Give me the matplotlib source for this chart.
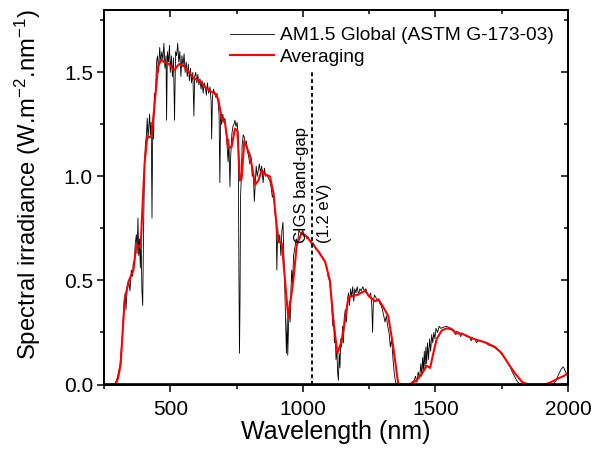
import matplotlib
matplotlib.use("Agg")
import matplotlib.pyplot as plt
from matplotlib.ticker import MultipleLocator, FormatStrFormatter

plt.rcParams['font.family'] = ['Liberation Sans', 'DejaVu Sans']
plt.rcParams['mathtext.fontset'] = 'custom'
plt.rcParams['mathtext.rm'] = 'Liberation Sans'
plt.rcParams['mathtext.it'] = 'Liberation Sans'
plt.rcParams['mathtext.bf'] = 'Liberation Sans'

# AM1.5 Global spectrum
am_nm = [280, 290, 300, 310, 320, 325, 330, 333, 338, 343, 348, 353, 358, 360, 365, 368, 372, 375, 378, 381,
         384, 387, 390, 393, 396, 399, 403, 406, 410, 413, 416, 419, 422, 425, 428, 431, 434, 437, 440, 444,
         448, 452, 456, 460, 464, 468, 472, 476, 480, 484, 486, 489, 493, 497, 500, 504, 508, 512, 516, 520,
         524, 528, 532, 536, 540, 544, 548, 552, 556, 560, 564, 568, 572, 576, 580, 585, 589, 592, 596, 600,
         604, 608, 612, 616, 620, 624, 628, 632, 636, 640, 645, 650, 654, 656, 659, 663, 667, 672, 676, 680,
         684, 687, 690, 694, 698, 702, 706, 710, 714, 718, 721, 725, 728, 732, 736, 740, 744, 748, 752, 756,
         759, 761, 763, 765, 768, 771, 775, 779, 783, 787, 791, 795, 800, 805, 809, 813, 817, 820, 824, 828,
         832, 836, 840, 845, 850, 855, 860, 865, 870, 875, 880, 885, 890, 895, 899, 902, 905, 909, 913, 917,
         921, 925, 929, 932, 935, 938, 941, 943, 946, 949, 952, 955, 958, 961, 965, 970, 975, 980, 985, 990,
         995, 1000, 1005, 1010, 1015, 1020, 1030, 1040, 1050, 1060, 1070, 1080, 1090, 1095, 1100, 1105, 1110, 1113, 1116, 1119,
         1122, 1125, 1128, 1131, 1134, 1137, 1140, 1143, 1146, 1150, 1153, 1156, 1160, 1164, 1168, 1172, 1176, 1180, 1184, 1188,
         1192, 1196, 1200, 1205, 1210, 1215, 1220, 1226, 1232, 1238, 1244, 1250, 1256, 1260, 1263, 1266, 1270, 1275, 1280, 1285,
         1290, 1295, 1300, 1305, 1310, 1315, 1320, 1325, 1330, 1335, 1340, 1345, 1350, 1355, 1400, 1410, 1420, 1425, 1430, 1435,
         1440, 1445, 1448, 1452, 1455, 1458, 1461, 1464, 1467, 1470, 1474, 1478, 1482, 1486, 1490, 1494, 1498, 1502, 1508, 1514,
         1520, 1530, 1540, 1550, 1560, 1570, 1575, 1580, 1590, 1595, 1600, 1610, 1620, 1630, 1635, 1640, 1650, 1655, 1660, 1670,
         1680, 1690, 1700, 1710, 1720, 1730, 1740, 1750, 1760, 1770, 1780, 1790, 1800, 1810, 1820, 1830, 1900, 1910, 1920, 1935,
         1945, 1955, 1965, 1975, 1982, 1988, 1994, 2000]
am_val = [0.0, 0.0, 0.03, 0.09, 0.25, 0.38, 0.44, 0.36, 0.48, 0.50, 0.45, 0.55, 0.52, 0.58, 0.60, 0.68, 0.72, 0.63, 0.80, 0.62,
          0.70, 0.56, 0.70, 0.45, 0.38, 0.72, 1.06, 1.15, 1.20, 1.28, 1.18, 1.24, 1.30, 1.20, 1.26, 0.80, 1.25, 1.18, 1.40, 1.38,
          1.55, 1.58, 1.50, 1.62, 1.55, 1.60, 1.56, 1.64, 1.52, 1.58, 1.27, 1.60, 1.55, 1.63, 1.50, 1.58, 1.48, 1.57, 1.27, 1.60,
          1.58, 1.64, 1.55, 1.60, 1.48, 1.58, 1.53, 1.59, 1.50, 1.55, 1.48, 1.54, 1.46, 1.52, 1.45, 1.50, 1.29, 1.48, 1.50, 1.45,
          1.49, 1.44, 1.47, 1.42, 1.46, 1.40, 1.45, 1.43, 1.39, 1.45, 1.40, 1.43, 1.36, 1.18, 1.38, 1.42, 1.40, 1.38, 1.40, 1.36,
          1.30, 0.97, 1.30, 1.25, 1.30, 1.26, 1.28, 1.22, 1.15, 1.07, 1.18, 0.95, 1.10, 1.20, 1.24, 1.25, 1.27, 1.24, 1.26, 1.20,
          0.50, 0.15, 0.40, 0.90, 1.00, 1.15, 1.20, 1.19, 1.15, 1.17, 1.12, 1.10, 1.06, 1.09, 1.00, 1.02, 0.88, 0.95, 1.05, 1.00,
          1.03, 1.06, 1.02, 1.05, 0.97, 1.04, 1.00, 1.01, 0.99, 0.98, 0.95, 0.90, 0.92, 0.82, 0.78, 0.55, 0.75, 0.68, 0.72, 0.62,
          0.74, 0.78, 0.60, 0.45, 0.30, 0.15, 0.32, 0.14, 0.28, 0.40, 0.30, 0.45, 0.55, 0.48, 0.62, 0.66, 0.70, 0.68, 0.74, 0.73,
          0.72, 0.74, 0.71, 0.72, 0.70, 0.71, 0.68, 0.68, 0.65, 0.64, 0.62, 0.60, 0.57, 0.52, 0.50, 0.45, 0.35, 0.28, 0.32, 0.20,
          0.25, 0.12, 0.18, 0.06, 0.02, 0.15, 0.08, 0.22, 0.18, 0.28, 0.20, 0.32, 0.36, 0.30, 0.40, 0.44, 0.38, 0.46, 0.42, 0.47,
          0.40, 0.46, 0.44, 0.47, 0.43, 0.46, 0.45, 0.47, 0.45, 0.46, 0.43, 0.42, 0.44, 0.38, 0.25, 0.40, 0.43, 0.42, 0.40, 0.41,
          0.39, 0.38, 0.36, 0.33, 0.30, 0.33, 0.28, 0.25, 0.18, 0.22, 0.12, 0.05, 0.01, 0.0, 0.0, 0.01, 0.02, 0.04, 0.01, 0.06,
          0.03, 0.10, 0.04, 0.13, 0.06, 0.16, 0.08, 0.18, 0.10, 0.20, 0.12, 0.22, 0.16, 0.24, 0.20, 0.25, 0.22, 0.27, 0.25, 0.28,
          0.27, 0.275, 0.28, 0.275, 0.27, 0.26, 0.24, 0.255, 0.25, 0.23, 0.245, 0.24, 0.235, 0.225, 0.21, 0.225, 0.215, 0.20, 0.21, 0.21,
          0.205, 0.20, 0.19, 0.185, 0.18, 0.17, 0.165, 0.145, 0.13, 0.11, 0.09, 0.06, 0.035, 0.012, 0.004, 0.0, 0.0, 0.003, 0.0, 0.004,
          0.0, 0.02, 0.05, 0.075, 0.085, 0.07, 0.05, 0.04]

# Averaged spectrum
avg_nm = [280, 294, 303, 313, 328, 344, 361, 372, 388, 403, 413, 428, 439, 454, 466, 476, 495, 514, 533, 552,
          571, 590, 612, 631, 650, 669, 681, 694, 706, 719, 731, 744, 753, 763, 769, 779, 801, 820, 832, 845,
          857, 876, 889, 907, 920, 926, 945, 964, 977, 996, 1015, 1040, 1058, 1084, 1102, 1115, 1130, 1147, 1159, 1172,
          1203, 1235, 1253, 1272, 1285, 1304, 1322, 1341, 1360, 1404, 1429, 1448, 1467, 1480, 1492, 1505, 1524, 1543, 1561, 1580,
          1599, 1618, 1643, 1668, 1693, 1725, 1750, 1775, 1800, 1826, 1850, 1914, 1939, 1964, 1983, 2000]
avg_val = [0.0, 0.0, 0.03, 0.10, 0.41, 0.50, 0.55, 0.67, 0.66, 1.06, 1.19, 1.19, 1.32, 1.53, 1.56, 1.55, 1.54, 1.51, 1.54, 1.53,
           1.50, 1.47, 1.46, 1.43, 1.41, 1.40, 1.37, 1.28, 1.26, 1.14, 1.14, 1.23, 1.22, 0.98, 0.99, 1.17, 1.10, 0.96, 0.98, 1.03,
           1.01, 1.00, 0.92, 0.69, 0.68, 0.60, 0.32, 0.50, 0.67, 0.73, 0.71, 0.67, 0.64, 0.59, 0.50, 0.31, 0.15, 0.21, 0.31, 0.42,
           0.43, 0.45, 0.42, 0.40, 0.41, 0.37, 0.33, 0.18, 0.0, 0.0, 0.02, 0.05, 0.09, 0.08, 0.15, 0.22, 0.26, 0.27, 0.265, 0.245,
           0.245, 0.233, 0.22, 0.21, 0.20, 0.18, 0.15, 0.10, 0.054, 0.013, 0.0, 0.0, 0.013, 0.03, 0.04, 0.054]

bandgap_nm = 1033
bandgap_top = 1.50

fig = plt.figure(figsize=(5.95, 4.54), dpi=100)
ax = fig.add_axes([104/595, (454-384.5)/454, 464/595, 374.5/454])

ax.plot(am_nm, am_val, color='black', lw=0.6, label='AM1.5 Global (ASTM G-173-03)')
ax.plot(avg_nm, avg_val, color='#ff0000', lw=1.5, label='Averaging')
ax.plot([bandgap_nm, bandgap_nm], [0, bandgap_top], color='black', lw=1.3, ls=(0, (2.2, 1.6)))

ax.text(996, 0.68, 'CIGS band-gap', rotation=90, ha='center', va='bottom', fontsize=12)
ax.text(1080, 0.68, '(1.2 eV)', rotation=90, ha='center', va='bottom', fontsize=12)

ax.set_xlim(250, 2000)
ax.set_ylim(0, 1.8)
ax.xaxis.set_major_locator(MultipleLocator(500))
ax.xaxis.set_minor_locator(MultipleLocator(250))
ax.yaxis.set_major_locator(MultipleLocator(0.5))
ax.yaxis.set_minor_locator(MultipleLocator(0.25))
ax.yaxis.set_major_formatter(FormatStrFormatter('%.1f'))

ax.tick_params(which='both', direction='out', width=1.1, labelsize=15,
               bottom=True, left=True, top=False, right=False)
ax.tick_params(which='major', length=5)
ax.tick_params(which='minor', length=3)
ax.tick_params(axis='x', pad=6)
ax.tick_params(axis='y', pad=3)

# mirrored ticks on top/right, pointing inward
axt = ax.twiny()
axt.set_xlim(ax.get_xlim())
axt.xaxis.set_major_locator(MultipleLocator(500))
axt.xaxis.set_minor_locator(MultipleLocator(250))
axt.tick_params(which='both', direction='in', width=1.1, top=True, bottom=False,
                labeltop=False, labelbottom=False)
axt.tick_params(which='major', length=5)
axt.tick_params(which='minor', length=3)
axr = ax.twinx()
axr.set_ylim(ax.get_ylim())
axr.yaxis.set_major_locator(MultipleLocator(0.5))
axr.yaxis.set_minor_locator(MultipleLocator(0.25))
axr.tick_params(which='both', direction='in', width=1.1, right=True, left=False,
                labelright=False, labelleft=False)
axr.tick_params(which='major', length=5)
axr.tick_params(which='minor', length=3)

for a in (ax, axt, axr):
    for s in a.spines.values():
        s.set_visible(True)
        s.set_linewidth(1.2)
        s.set_color('black')

ax.set_xlabel('Wavelength (nm)', fontsize=18, labelpad=1)
ax.set_ylabel(r'Spectral irradiance (W.m$^{-2}$.nm$^{-1}$)', fontsize=17.2)
ax.yaxis.set_label_coords(-0.132, 0.535)

leg = ax.legend(loc='upper left', bbox_to_anchor=((230-104)/464, (384.5-27)/374.5),
                frameon=False, fontsize=13.8, handlelength=2.3, handletextpad=0.3,
                labelspacing=0.2, borderpad=0, borderaxespad=0)

fig.savefig('out.png', dpi=100)
